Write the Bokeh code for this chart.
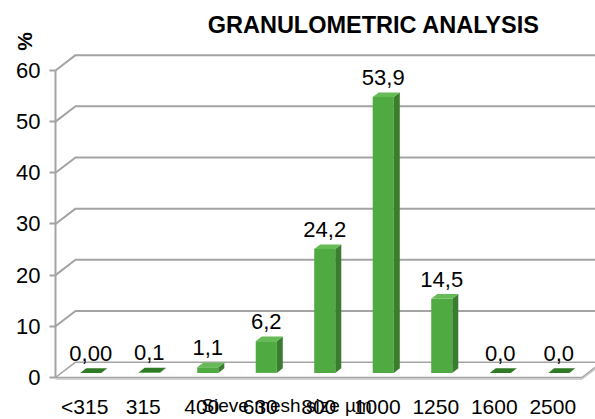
from bokeh.plotting import figure
from bokeh.models import Range1d, FixedTicker, Label, ColumnDataSource
from bokeh.core.properties import value
from bokeh.embed import file_html
from bokeh.resources import INLINE

# ---- data ----
categories = ["<315", "315", "400", "630", "800", "1000", "1250", "1600", "2500"]
values = [0.00, 0.1, 1.1, 6.2, 24.2, 53.9, 14.5, 0.0, 0.0]
value_labels = ["0,00", "0,1", "1,1", "6,2", "24,2", "53,9", "14,5", "0,0", "0,0"]
y_ticks = [0, 10, 20, 30, 40, 50, 60]
title_text = "GRANULOMETRIC ANALYSIS"
x_title = "Sieve mesh size µm"
y_title = "%"

# ---- 3D-ish geometry (in data units) ----
n = len(categories)
DX, DY = 0.342, 3.0          # depth offset of back wall
F = 0.3                      # bar front face depth fraction
BW = 0.36                    # bar front width
SD = 0.30                    # bar depth fraction
offx, offy = F * DX, F * DY
sdx, sdy = SD * DX, SD * DY

FONT = "Liberation Sans"

p = figure(width=595, height=419, output_backend="svg", toolbar_location=None,
           x_range=Range1d(-55 / 58.5, 540 / 58.5), y_range=Range1d(-8.21, 73.68),
           min_border_left=0, min_border_right=0, min_border_top=0,
           min_border_bottom=0, outline_line_color=None)
p.xgrid.visible = False
p.ygrid.visible = False

grid_col = "#a3a3a3"

# back-wall gridlines
gx, gy = [], []
for t in y_ticks[1:]:
    gx.append([0, DX, n + DX])
    gy.append([t, t + DY, t + DY])
p.multi_line(gx, gy, line_color=grid_col, line_width=2)

# floor
p.patch([0, n, n + DX, DX], [0, 0, DY, DY], fill_color="white",
        line_color=grid_col, line_width=1.5)
p.line([0, n, n + DX], [-0.3, -0.3, DY - 0.3], line_color="#c4c4c4", line_width=1.5)

# bars
fl, fr, fb, ft = [], [], [], []
sx, sy, tx, ty = [], [], [], []
for i, v in enumerate(values):
    c = i + 0.5 + offx
    l, r = c - BW / 2, c + BW / 2
    b, t = offy, v + offy
    fl.append(l); fr.append(r); fb.append(b); ft.append(t)
    sx.append([r, r + sdx, r + sdx, r]); sy.append([b, b + sdy, t + sdy, t])
    tx.append([l, r, r + sdx, l + sdx]); ty.append([t, t, t + sdy, t + sdy])

p.quad(left=fl, right=fr, bottom=fb, top=ft, fill_color="#50aa42", line_color=None)
p.patches(sx, sy, fill_color="#3a7d2e", line_color=None)
top_cols = ["#2f7a24" if v < 0.5 else "#66bb57" for v in values]
p.patches(tx, ty, fill_color=top_cols, line_color=None)

# value labels
src = ColumnDataSource(dict(x=[i + 0.5 + offx for i in range(n)],
                            y=[v + offy + 3.8 for v in values],
                            t=value_labels))
p.text(x="x", y="y", text="t", source=src, text_align="center",
       text_baseline="alphabetic", text_font=value(FONT), text_font_size="22px",
       text_color="black")

# y axis (drawn at x = 0)
ya = p.yaxis[0]
ya.fixed_location = 0
ya.ticker = FixedTicker(ticks=y_ticks)
ya.bounds = (0, 60)
ya.axis_line_color = grid_col
ya.axis_line_width = 2
ya.major_tick_line_color = grid_col
ya.major_tick_line_width = 2
ya.major_tick_out = 6
ya.major_tick_in = 0
ya.minor_tick_line_color = None
ya.major_label_text_font = FONT
ya.major_label_text_font_size = "22px"
ya.major_label_text_color = "black"
ya.major_label_standoff = 9

# x axis (drawn at y = 0)
xa = p.xaxis[0]
xa.fixed_location = 0
xa.ticker = FixedTicker(ticks=[i + 0.5 for i in range(n)])
xa.major_label_overrides = {i + 0.5: c for i, c in enumerate(categories)}
xa.axis_line_color = None
xa.major_tick_line_color = None
xa.minor_tick_line_color = None
xa.major_label_text_font = FONT
xa.major_label_text_font_size = "21px"
xa.major_label_text_color = "black"
xa.major_label_standoff = 12

# titles
p.add_layout(Label(x=5.44, y=68.8, text=title_text, text_align="center",
                   text_baseline="middle", text_font=FONT, text_font_style="bold",
                   text_font_size="23.5px", text_color="black"))
p.add_layout(Label(x=-0.53, y=65.7, text=y_title, angle=1.5708, text_align="center",
                   text_baseline="middle", text_font=FONT, text_font_style="bold",
                   text_font_size="21px", text_color="black"))
p.add_layout(Label(x=3.95, y=-5.5, text=x_title, text_align="center",
                   text_baseline="alphabetic", text_font=FONT,
                   text_font_size="19px", text_color="black"))

open("out.html", "w").write(file_html(p, INLINE))
